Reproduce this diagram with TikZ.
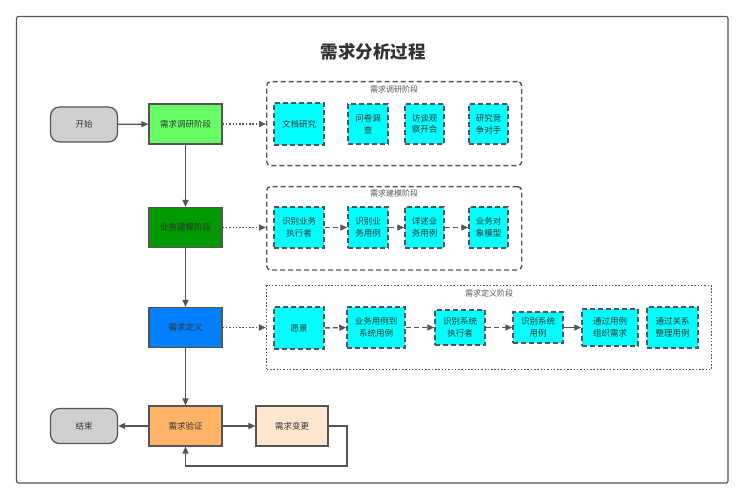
\documentclass[tikz,border=0pt]{standalone}
\usepackage{fontspec}
\setmainfont{Noto Sans CJK SC}
\usetikzlibrary{arrows.meta, positioning, calc}
\definecolor{LineGray}{HTML}{555555}
\definecolor{TextGray}{HTML}{333333}
\definecolor{TermGray}{HTML}{D0D0D0}
\definecolor{SurveyGreen}{HTML}{66FF66}
\definecolor{ModelGreen}{HTML}{009900}
\definecolor{DefineBlue}{HTML}{0080FF}
\definecolor{VerifyOrange}{HTML}{FFB366}
\definecolor{ChangeCream}{HTML}{FFE6CC}
\definecolor{TaskCyan}{HTML}{00FFFF}

\begin{document}
\begin{tikzpicture}[x=1pt, y=-1pt,
    every node/.style={font=\fontsize{8.5}{11.5}\selectfont, text=TextGray},
    term/.style={draw=LineGray, line width=1.2pt, fill=TermGray, rounded corners=9pt, minimum width=67pt, minimum height=35pt},
    stage/.style={draw=LineGray, line width=1.2pt, minimum width=73pt, minimum height=40pt},
    task/.style={draw=LineGray, line width=1.5pt, dash pattern=on 5pt off 3pt, fill=TaskCyan, align=center, inner sep=1pt},
    group/.style={draw=LineGray, line width=1.4pt, dash pattern=on 5pt off 3pt, rounded corners=4pt},
    dotgroup/.style={draw=LineGray, line width=1.5pt, dash pattern=on 1.5pt off 1.8pt},
    glabel/.style={font=\fontsize{8}{10}\selectfont, text=LineGray},
    flow/.style={draw=LineGray, line width=1.2pt, -{Triangle[length=7pt, width=6pt]}},
    link/.style={flow, line width=1.5pt, dash pattern=on 1.5pt off 1.8pt},
    dashflow/.style={flow, line width=1.4pt, dash pattern=on 5pt off 3pt}
]
\useasboundingbox (0,0) rectangle (745,500);
\draw[draw=LineGray, line width=1.2pt, rounded corners=2pt] (16.5,16.5) rectangle (728,483);

\node[font=\fontsize{17.5}{20}\selectfont\bfseries] (title) at (373,51.5) {需求分析过程};

% Main flow
\node[term] (start) at (84,124.5) {开始};
\node[stage, fill=SurveyGreen] (survey) at (185.5,124) {需求调研阶段};
\node[stage, fill=ModelGreen] (model) at (185.5,227.5) {业务建模阶段};
\node[stage, fill=DefineBlue] (define) at (185.5,327.5) {需求定义};
\node[stage, fill=VerifyOrange] (verify) at (185.5,426) {需求验证};
\node[term] (finish) at (84,426) {结束};
\node[stage, fill=ChangeCream, minimum width=72pt] (change) at (292,426) {需求变更};
\coordinate (loop) at (347,466);

\draw[flow] (start) -- (survey);
\draw[flow] (survey) -- (model);
\draw[flow] (model) -- (define);
\draw[flow] (define) -- (verify);
\draw[flow] (verify) -- (finish);
\draw[flow] (verify) -- (change);
\draw[flow] (change.east) -| (loop) -| (verify.south);

% Stage 1
\node[group, minimum width=255pt, minimum height=84pt] (g1) at (394.2,123.7) {};
\node[glabel] (g1label) at ([yshift=-8pt]g1.north) {需求调研阶段};
\node[task, minimum width=50pt, minimum height=42pt] (t11) at (299,124) {文档研究};
\node[task, minimum width=40pt, minimum height=40pt] (t12) at (368,124) {问卷调\\查};
\node[task, minimum width=39pt, minimum height=40pt] (t13) at (424.5,124) {访谈观\\察开会};
\node[task, minimum width=39pt, minimum height=40pt] (t14) at (488.5,124) {研究竞\\争对手};
\draw[link] (survey.east) -- (survey.east -| g1.west);

% Stage 2
\node[group, minimum width=255pt, minimum height=83.3pt] (g2) at (394.2,228.3) {};
\node[glabel] (g2label) at ([yshift=-8pt]g2.north) {需求建模阶段};
\node[task, minimum width=50pt, minimum height=41pt] (t21) at (299,227.5) {识别业务\\执行者};
\node[task, minimum width=40pt, minimum height=41pt] (t22) at (368,227.5) {识别业\\务用例};
\node[task, minimum width=39pt, minimum height=41pt] (t23) at (424.5,227.5) {详述业\\务用例};
\node[task, minimum width=39pt, minimum height=41pt] (t24) at (488.5,227.5) {业务对\\象模型};
\draw[link] (model.east) -- (model.east -| g2.west);
\draw[dashflow] (t21) -- (t22);
\draw[dashflow] (t22) -- (t23);
\draw[dashflow] (t23) -- (t24);

% Stage 3
\node[dotgroup, minimum width=445pt, minimum height=83.6pt] (g3) at (489.2,327.5) {};
\node[glabel] (g3label) at ([yshift=-8pt]g3.north) {需求定义阶段};
\node[task, minimum width=50pt, minimum height=42pt] (t31) at (299,328) {愿景};
\node[task, minimum width=58pt, minimum height=41pt] (t32) at (376,327.5) {业务用例到\\系统用例};
\node[task, minimum width=50pt, minimum height=35pt] (t33) at (460,327.5) {识别系统\\执行者};
\node[task, minimum width=50pt, minimum height=31pt] (t34) at (538,327.5) {识别系统\\用例};
\node[task, minimum width=56pt, minimum height=37pt] (t35) at (610,327.5) {通过用例\\组织需求};
\node[task, minimum width=51pt, minimum height=41pt] (t36) at (672.5,327.5) {通过关系\\整理用例};
\draw[link] (define.east) -- (define.east -| g3.west);
\draw[dashflow] (t31) -- (t32);
\draw[dashflow] (t32) -- (t33);
\draw[dashflow] (t33) -- (t34);
\draw[flow, line width=1.4pt] (t34) -- (t35);
\end{tikzpicture}
\end{document}
